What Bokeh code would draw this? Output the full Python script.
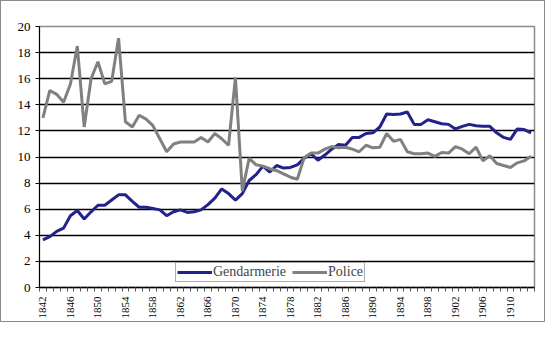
import math
from bokeh.plotting import figure
from bokeh.models import FixedTicker, Legend, LegendItem, Range1d
from bokeh.embed import file_html
from bokeh.resources import INLINE

years = list(range(1842, 1914))
gendarmerie = [3.65, 3.9, 4.3, 4.55, 5.5, 5.9, 5.25, 5.8, 6.3, 6.3,
               6.7, 7.1, 7.1, 6.6, 6.15, 6.15, 6.05, 5.95, 5.5, 5.8,
               5.95, 5.75, 5.8, 5.95, 6.35, 6.85, 7.55, 7.2, 6.7, 7.2,
               8.2, 8.65, 9.3, 8.85, 9.35, 9.15, 9.2, 9.4, 9.9, 10.25,
               9.75, 10.15, 10.6, 10.95, 10.9, 11.5, 11.5, 11.8, 11.85, 12.3,
               13.3, 13.25, 13.3, 13.45, 12.5, 12.5, 12.85, 12.7, 12.55, 12.5,
               12.15, 12.35, 12.5, 12.4, 12.35, 12.35, 11.85, 11.5, 11.35, 12.15,
               12.1, 11.85]
police = [13.0, 15.1, 14.8, 14.2, 15.6, 18.5, 12.3, 16.0, 17.3, 15.6,
          15.8, 19.1, 12.7, 12.3, 13.2, 12.9, 12.4, 11.4, 10.4, 11.0,
          11.15, 11.15, 11.15, 11.5, 11.15, 11.8, 11.4, 10.9, 16.1, 7.4,
          9.9, 9.4, 9.3, 9.1, 8.95, 8.7, 8.45, 8.3, 9.95, 10.3,
          10.3, 10.6, 10.8, 10.7, 10.75, 10.6, 10.4, 10.9, 10.7, 10.75,
          11.8, 11.2, 11.35, 10.4, 10.25, 10.25, 10.3, 10.05, 10.35, 10.3,
          10.8, 10.6, 10.25, 10.75, 9.7, 10.1, 9.5, 9.35, 9.2, 9.55,
          9.7, 10.05]
year_labels = list(range(1842, 1911, 4))
y_ticks = list(range(0, 21, 2))

FONT = "'Liberation Serif'"

p = figure(frame_width=495, frame_height=261, output_backend="svg", toolbar_location=None,
           x_range=Range1d(years[0] - 0.5, years[-1] + 0.5),
           y_range=Range1d(0, 20),
           min_border_left=38, min_border_right=10, min_border_top=25, min_border_bottom=2)
p.styles = {"border": "1px solid #8c8c8c"}
p.background_fill_color = "white"
p.border_fill_color = "white"
p.outline_line_color = "#8c8c8c"
p.outline_line_width = 1.5

r1 = p.line(years, gendarmerie, line_color="#22228c", line_width=3)
r2 = p.line(years, police, line_color="#808080", line_width=3)

p.xgrid.grid_line_color = None
p.ygrid.grid_line_color = "black"
p.ygrid.grid_line_width = 1.6
p.ygrid.ticker = FixedTicker(ticks=y_ticks)

p.yaxis.ticker = FixedTicker(ticks=y_ticks)
p.yaxis.major_label_text_font = FONT
p.yaxis.major_label_text_font_size = "13px"
p.yaxis.major_label_text_color = "black"
p.yaxis.axis_line_color = "black"
p.yaxis.major_tick_out = 4
p.yaxis.major_tick_in = 0
p.yaxis.minor_tick_line_color = None
p.yaxis.major_label_standoff = 5

p.xaxis.ticker = FixedTicker(ticks=year_labels,
                             minor_ticks=[y - 0.5 for y in years] + [years[-1] + 0.5])
p.xaxis.major_label_orientation = math.pi / 2
p.xaxis.major_label_text_font = FONT
p.xaxis.major_label_text_font_size = "11px"
p.xaxis.major_label_text_color = "black"
p.xaxis.axis_line_color = "black"
p.xaxis.axis_line_width = 1.5
p.xaxis.major_tick_out = 0
p.xaxis.major_tick_in = 0
p.xaxis.minor_tick_out = 4
p.xaxis.minor_tick_in = 0
p.xaxis.minor_tick_line_color = "#555555"
p.xaxis.major_label_standoff = 5

legend = Legend(items=[LegendItem(label="Gendarmerie", renderers=[r1]),
                       LegendItem(label="Police", renderers=[r2])],
                orientation="horizontal", location=(136, 5),
                label_text_font=FONT, label_text_font_size="14px",
                glyph_width=35, glyph_height=12, label_standoff=1,
                spacing=6, padding=1, margin=0,
                border_line_color="#555555", border_line_width=1,
                background_fill_color="white", background_fill_alpha=1.0,
                label_height=12)
p.add_layout(legend, "center")

open("out.html", "w").write(file_html(p, INLINE))
